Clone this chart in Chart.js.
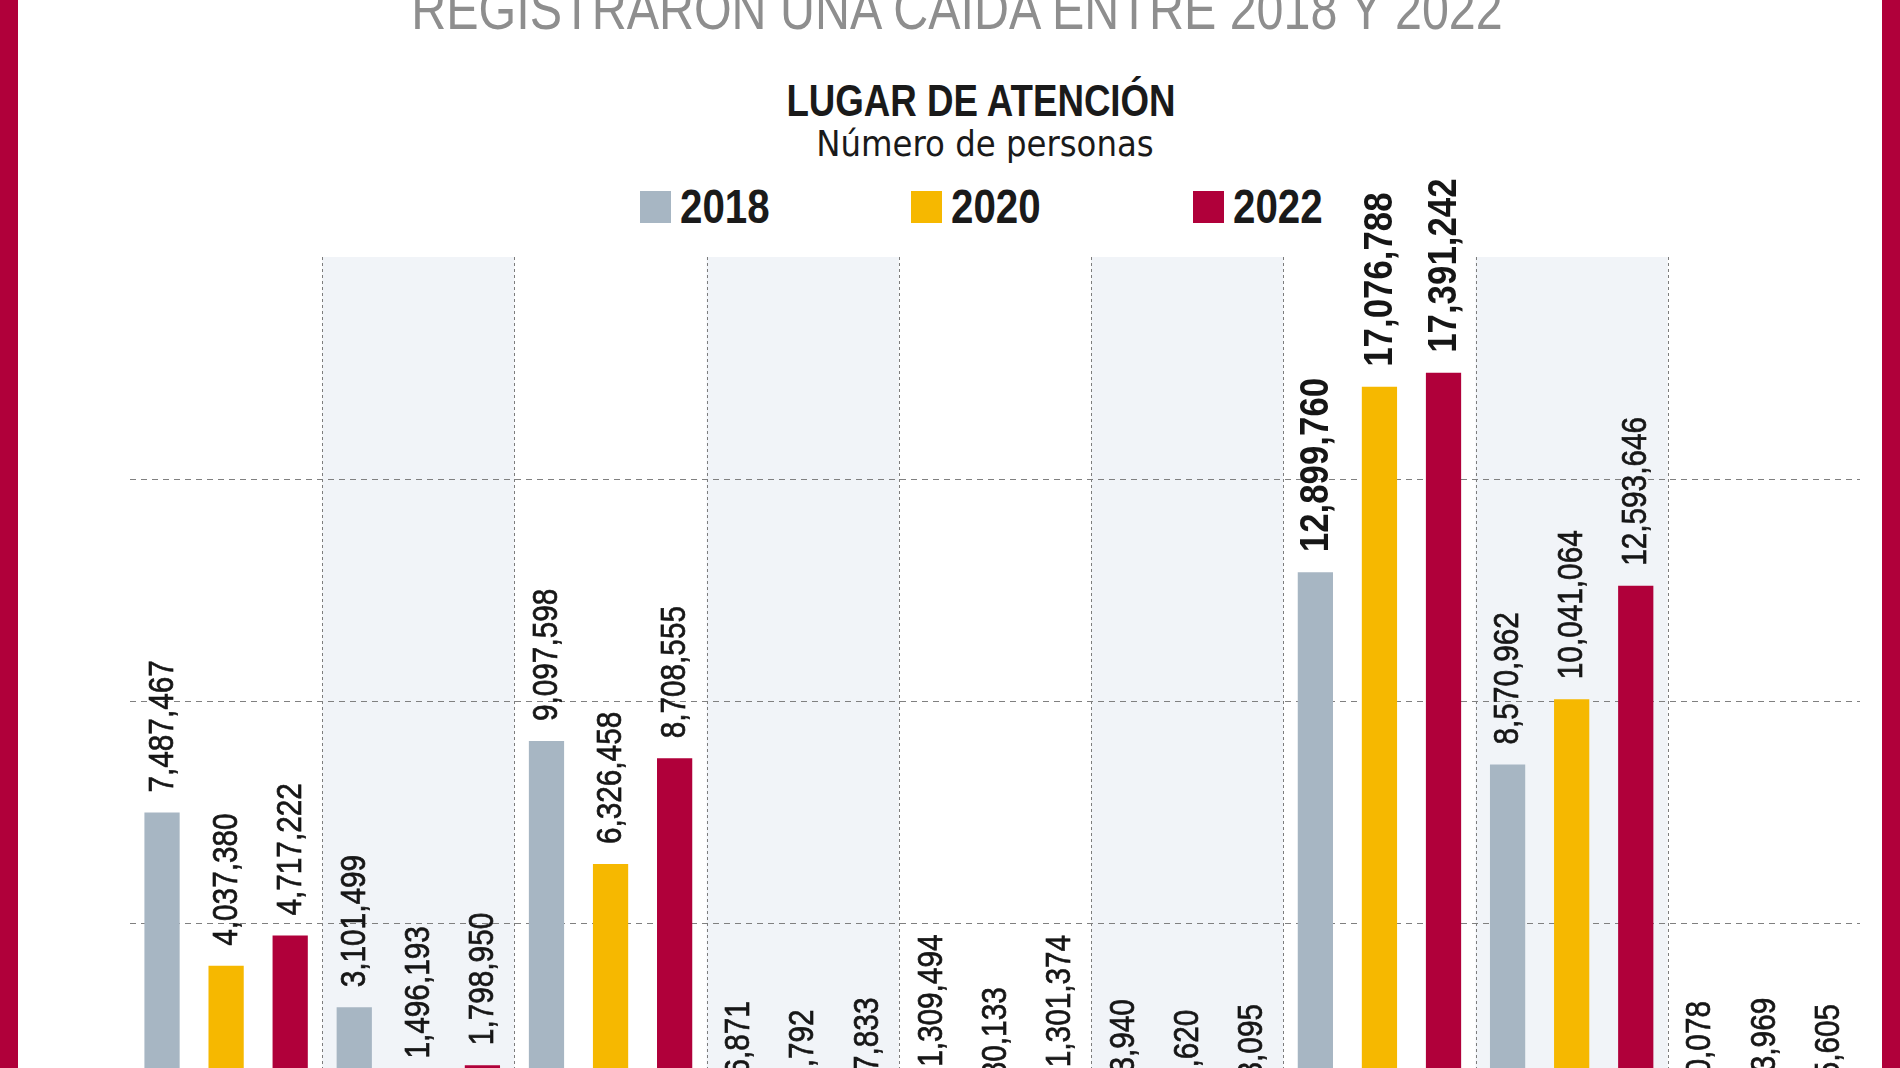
<!DOCTYPE html>
<html>
<head>
<meta charset="utf-8">
<script src="https://cdn.jsdelivr.net/npm/chart.js@4.4.1/dist/chart.umd.min.js"></script>
<style>
  html, body { margin: 0; padding: 0; width: 1900px; height: 1068px; overflow: hidden; background: #fff; }
  .edge { position: absolute; top: 0; width: 18px; height: 1068px; background: #b0003a; z-index: 5; }
  .txt { position: absolute; white-space: nowrap; }
  #head { left: 957px; top: -19px; transform: translateX(-50%) scaleX(0.85); font: 57px/57px "Liberation Sans", sans-serif; color: #8e8e8e; }
  #title { left: 981px; top: 78px; transform: translateX(-50%) scaleX(0.815); font: bold 45px/45px "Liberation Sans", sans-serif; color: #1a1a1a; }
  #sub { left: 985px; top: 126px; transform: translateX(-50%); font: 36px/36px "DejaVu Sans Condensed", sans-serif; color: #1a1a1a; }
  .sw { position: absolute; top: 191px; width: 31px; height: 32px; }
  .lb { position: absolute; top: 183px; transform-origin: 0 0; transform: scaleX(0.84); font: bold 48px/48px "Liberation Sans", sans-serif; color: #1a1a1a; white-space: nowrap; }
  #wrap { position: absolute; left: 0; top: 0; width: 1900px; height: 1200px; }
</style>
</head>
<body>
<div class="edge" style="left:0"></div>
<div class="edge" style="left:1882px"></div>
<div class="txt" id="head">REGISTRARON UNA CAÍDA ENTRE 2018 Y 2022</div>
<div class="txt" id="title">LUGAR DE ATENCIÓN</div>
<div class="txt" id="sub">Número de personas</div>
<div id="legend"></div>
<div id="wrap"><canvas id="myChart" width="1900" height="1200"></canvas></div>
<script>
// categories (their names are cut off in the picture)
const categories = ["Lugar 1", "Lugar 2", "Lugar 3", "Lugar 4", "Lugar 5", "Lugar 6", "Lugar 7", "Lugar 8", "Lugar 9"];
const seriesNames = ["2018", "2020", "2022"];
const values2018 = [7487467, 3101499, 9097598, 366871, 1309494, 413940, 12899760, 8570962, 370078];
const values2020 = [4037380, 1496193, 6326458, 181792, 680133, 174620, 17076788, 10041064, 443969];
const values2022 = [4717222, 1798950, 8708555, 447833, 1301374, 303095, 17391242, 12593646, 305605];
const yTicks = [0, 5000000, 10000000, 15000000, 20000000];

const colors = ["#a7b6c3", "#f6b800", "#b0003a"];
const allValues = [values2018, values2020, values2022];

// legend built from the series names
const legendEl = document.getElementById("legend");
const swatchX = [640, 911, 1193];
seriesNames.forEach((name, i) => {
    const sw = document.createElement("div");
    sw.className = "sw";
    sw.style.left = swatchX[i] + "px";
    sw.style.background = colors[i];
    const lb = document.createElement("div");
    lb.className = "lb";
    lb.style.left = (swatchX[i] + 40) + "px";
    lb.textContent = name;
    legendEl.appendChild(sw);
    legendEl.appendChild(lb);
});

// shaded columns + dotted separators
const columnsPlugin = {
    id: "columns",
    beforeDraw(chart) {
        const { ctx, chartArea } = chart;
        const x = chart.scales.x;
        const n = categories.length;
        const w = (chartArea.right - chartArea.left) / n;
        ctx.save();
        ctx.fillStyle = "#f1f4f8";
        for (let i = 1; i < n; i += 2) {
            const cx = x.getPixelForValue(i);
            ctx.fillRect(cx - w / 2, chartArea.top, w, chartArea.bottom - chartArea.top);
        }
        ctx.restore();
    },
    beforeDatasetsDraw(chart) {
        const { ctx, chartArea } = chart;
        const x = chart.scales.x;
        ctx.save();
        ctx.strokeStyle = "#7d7d7d";
        ctx.lineWidth = 1;
        ctx.setLineDash([3, 3]);
        for (let i = 1; i < categories.length; i++) {
            const px = Math.round((x.getPixelForValue(i - 1) + x.getPixelForValue(i)) / 2) + 0.5;
            ctx.beginPath();
            ctx.moveTo(px, chartArea.top);
            ctx.lineTo(px, chartArea.bottom);
            ctx.stroke();
        }
        ctx.restore();
    }
};

// rotated value labels above bars (narrowed to mimic a condensed face)
const labelsPlugin = {
    id: "valueLabels",
    afterDatasetsDraw(chart) {
        const ctx = chart.ctx;
        ctx.save();
        ctx.fillStyle = "#161616";
        ctx.strokeStyle = "#161616";
        ctx.lineWidth = 0.7;
        chart.data.datasets.forEach((ds, di) => {
            chart.getDatasetMeta(di).data.forEach((bar, j) => {
                const big = j === 6;
                ctx.font = (big ? "bold 41px" : "35px") + ' "Liberation Sans", sans-serif';
                const txt = ds.data[j].toLocaleString("en-US");
                ctx.save();
                ctx.translate(bar.x + 1, bar.y - 20);
                ctx.rotate(-Math.PI / 2);
                ctx.scale(0.85, 1);
                ctx.textAlign = "left";
                ctx.textBaseline = "middle";
                ctx.fillText(txt, 0, 0);
                if (!big) ctx.strokeText(txt, 0, 0);
                ctx.restore();
            });
        });
        ctx.restore();
    }
};

const ctx = document.getElementById("myChart").getContext("2d");
new Chart(ctx, {
    type: "bar",
    data: {
        labels: categories,
        datasets: seriesNames.map((name, i) => ({
            label: name,
            data: allValues[i],
            backgroundColor: colors[i],
            barPercentage: 0.55,
            categoryPercentage: 1.0
        }))
    },
    options: {
        responsive: false,
        animation: false,
        layout: { padding: { top: 257, left: 130, right: 40, bottom: 55 } },
        plugins: {
            legend: { display: false },
            title: { display: false },
            tooltip: { enabled: false }
        },
        scales: {
            x: {
                display: false,
                grid: { display: false }
            },
            y: {
                min: yTicks[0],
                max: yTicks[yTicks.length - 1],
                afterBuildTicks: (axis) => { axis.ticks = yTicks.map(v => ({ value: v })); },
                ticks: { display: false },
                border: { display: false, dash: [6, 5] },
                grid: {
                    drawTicks: false,
                    lineWidth: 1,
                    color: (c) => (c.tick && (c.tick.value === 0 || c.tick.value === 20000000)) ? "rgba(0,0,0,0)" : "#808080"
                }
            }
        }
    },
    plugins: [columnsPlugin, labelsPlugin]
});
</script>
</body>
</html>
